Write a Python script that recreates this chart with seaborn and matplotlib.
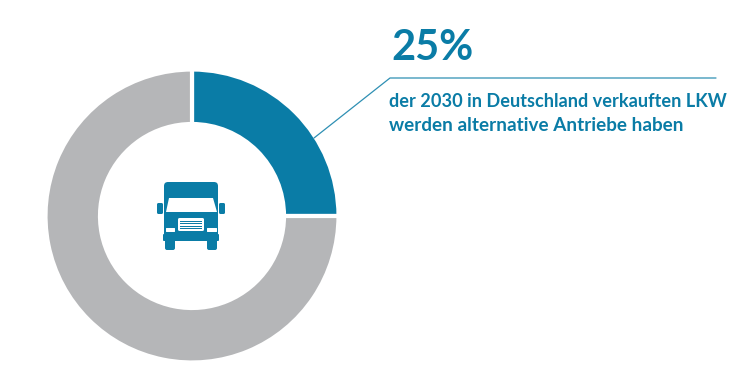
import matplotlib
matplotlib.use("Agg")
import matplotlib.pyplot as plt
from matplotlib.patches import FancyBboxPatch, Polygon, Rectangle
import seaborn as sns

shares = [25, 75]
headline = "25%"
line_1 = "der 2030 in Deutschland verkauften LKW"
line_2 = "werden alternative Antriebe haben"
BLUE = "#0a7ca6"
GREY = "#b5b6b8"
W, H = 737, 372

sns.set_theme(style="white")
plt.rcParams["font.family"] = ["Lato", "DejaVu Sans"]
fig = plt.figure(figsize=(W / 100, H / 100), dpi=100)
ax = fig.add_axes([0, 0, 1, 1])


def Y(py):
    return H - py


ax.pie(shares, colors=[BLUE, GREY], startangle=90, counterclock=False,
       center=(192, Y(216)), radius=146.5,
       wedgeprops=dict(width=54.5, edgecolor="white", linewidth=3))
ax.set_xlim(0, W)
ax.set_ylim(0, H)
ax.set_aspect("equal")
ax.axis("off")

# leader line
ax.plot([314, 390, 716], [Y(138), Y(78), Y(78)], color=BLUE, lw=0.9, alpha=0.85)

# text
ax.text(391, Y(60), headline, color=BLUE, fontsize=30, fontweight="bold", va="baseline")
ax.text(389, Y(107), line_1, color=BLUE, fontsize=13.1, fontweight="bold", va="baseline")
ax.text(389, Y(131), line_2, color=BLUE, fontsize=13.6, fontweight="bold", va="baseline")


def rrect(x0, y0, x1, y1, r, c=BLUE, z=3):
    ax.add_patch(FancyBboxPatch((x0 + r, Y(y1) + r), x1 - x0 - 2 * r, y1 - y0 - 2 * r,
                                boxstyle=f"round,pad={r},rounding_size={r}",
                                fc=c, ec="none", zorder=z))


# truck icon
rrect(164, 182, 218, 240, 4)
rrect(163, 234, 219, 241, 1)
rrect(165, 238, 175, 250, 2)
rrect(207, 238, 217, 250, 2)
rrect(157, 203, 163, 214, 1.5)
rrect(219, 203, 225, 214, 1.5)
ax.add_patch(Polygon([(169, Y(198)), (213, Y(198)), (217, Y(212)), (166, Y(212))],
                     fc="white", ec="none", zorder=4))
rrect(178, 218, 204, 231, 1.5, "white", 4)
for gy in (220.5, 223, 225.5, 228):
    ax.add_patch(Rectangle((180, Y(gy + 1.2)), 22, 1.2, fc=BLUE, ec="none", zorder=5))
rrect(166, 228, 175, 232, 0.5, "white", 4)
rrect(207, 228, 217, 232, 0.5, "white", 4)

fig.savefig("out.png", dpi=100, facecolor="white")
